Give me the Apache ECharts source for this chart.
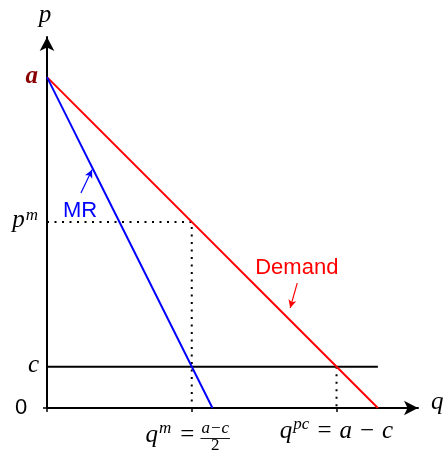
<!DOCTYPE html>
<html>
<head>
<meta charset="utf-8">
<script src="https://cdn.jsdelivr.net/npm/echarts@6/dist/echarts.min.js"></script>
<style>
  html, body { margin: 0; padding: 0; background: #ffffff; }
  #chart { width: 444px; height: 451px; }
</style>
</head>
<body>
<div id="chart"></div>
<script>
// Monopoly vs. perfect competition with linear demand p = a - q and constant marginal cost c.
const A = 8;           // demand intercept a
const C = 1;           // marginal cost c
const AXIS_MAX = 8.97; // axes run a little past a

const demandQ = [0, 8];
const demandP = [8, 0];
const mrQ = [0, 4];
const mrP = [8, 0];
const costQ = [0, 8];
const costP = [1, 1];
const monopolyQ = [0, 3.5, 3.5];
const monopolyP = [4.5, 4.5, 0];
const competitiveQ = [7, 7];
const competitiveP = [1, 0];
const xTickValues = [0, 3.5, 7];
const mrPointerQ = [0.82, 1.09];
const mrPointerP = [5.2, 5.76];
const demandPointerQ = [6.05, 5.88];
const demandPointerP = [3.02, 2.42];

const RED = '#ff0000';
const BLUE = '#0000ff';
const MAROON = '#8b0000';
const SERIF = '"Liberation Serif", "DejaVu Serif", serif';
const SANS = '"Liberation Sans", "DejaVu Sans", sans-serif';

const zip = (xs, ys) => xs.map((x, i) => [x, ys[i]]);

const chart = echarts.init(document.getElementById('chart'), null, { renderer: 'canvas' });

function lineSeries(name, q, p, color, type) {
  return {
    name, type: 'line', data: zip(q, p), symbol: 'none', silent: true,
    lineStyle: { color, width: 2, type: type || 'solid', cap: 'butt' },
    z: 3
  };
}

function pointer(q, p, color) {
  return {
    type: 'line', data: [], symbol: 'none', silent: true,
    markLine: {
      silent: true, animation: false,
      symbol: ['none', 'arrow'], symbolSize: [6, 8],
      label: { show: false },
      lineStyle: { color, width: 1.2, type: 'solid' },
      data: [[{ coord: [q[0], p[0]] }, { coord: [q[1], p[1]] }]]
    }
  };
}

chart.setOption({
  animation: false,
  backgroundColor: '#ffffff',
  grid: { left: 47, top: 37, width: 371, height: 371, containLabel: false },
  xAxis: {
    type: 'value', min: 0, max: AXIS_MAX,
    axisLine: { show: true, onZero: false, symbol: ['none', 'arrow'], symbolSize: [11, 14],
      lineStyle: { color: '#000', width: 2 } },
    axisTick: { show: true, customValues: xTickValues, length: 4, inside: false,
      lineStyle: { color: '#000', width: 1.5 } },
    axisLabel: { show: false },
    splitLine: { show: false }
  },
  yAxis: {
    type: 'value', min: 0, max: AXIS_MAX,
    axisLine: { show: true, onZero: false, symbol: ['none', 'arrow'], symbolSize: [11, 14],
      lineStyle: { color: '#000', width: 2 } },
    axisTick: { show: true, customValues: [0], length: 4, inside: false,
      lineStyle: { color: '#000', width: 1.5 } },
    axisLabel: { show: false },
    splitLine: { show: false }
  },
  series: [
    lineSeries('Cost', costQ, costP, '#000'),
    lineSeries('Monopoly', monopolyQ, monopolyP, '#000', [2, 5.5]),
    lineSeries('Competitive', competitiveQ, competitiveP, '#000', [2, 5.5]),
    lineSeries('Demand', demandQ, demandP, RED),
    lineSeries('MR', mrQ, mrP, BLUE),
    pointer(mrPointerQ, mrPointerP, BLUE),
    pointer(demandPointerQ, demandPointerP, RED)
  ]
});

// ---- math-style labels built from positioned text pieces ----
const measure = document.createElement('canvas').getContext('2d');
function fontOf(p) {
  return (p.italic ? 'italic ' : '') + (p.bold ? 'bold ' : '') + p.size + 'px ' + (p.family || SERIF);
}
function widthOf(p) { measure.font = fontOf(p); return measure.measureText(p.t).width; }
// distance from the em-box middle down to the alphabetic baseline
function baselineShift(p) { return p.size * ((p.family || SERIF) === SANS ? 0.347 : 0.338); }

function textEl(p, x, baseline, align, color) {
  return {
    type: 'text', silent: true,
    style: {
      text: p.t, x, y: baseline - baselineShift(p),
      font: fontOf(p), fill: p.color || color,
      align, textAlign: align, verticalAlign: 'middle', textVerticalAlign: 'middle'
    }
  };
}

// parts laid out left to right; y is the shared baseline
function formula(parts, x, baseline, align, color) {
  const widths = parts.map(p => p.frac
    ? Math.max(widthOf(p.num), widthOf(p.den)) + 2
    : widthOf(p));
  const total = parts.reduce((s, p, i) => s + (p.before || 0) + widths[i] + (p.after || 0), 0);
  let cx = align === 'center' ? x - total / 2 : align === 'right' ? x - total : x;
  const els = [];
  parts.forEach((p, i) => {
    cx += p.before || 0;
    const w = widths[i];
    if (p.frac) {
      const mid = cx + w / 2;
      els.push(textEl(p.num, mid, baseline + p.numDy, 'center', color));
      els.push({ type: 'rect', silent: true,
        shape: { x: cx, y: baseline + p.barDy, width: w, height: 0.9 },
        style: { fill: color } });
      els.push(textEl(p.den, mid, baseline + p.denDy, 'center', color));
    } else {
      els.push(textEl(p, cx, baseline + (p.dy || 0), 'left', color));
    }
    cx += w + (p.after || 0);
  });
  return els;
}

const px = (q, p) => chart.convertToPixel({ gridIndex: 0 }, [q, p]);
const M = 25;   // main math size
const S = 17;   // superscript size

const origin = px(0, 0);
const topOfP = px(0, AXIS_MAX);
const endOfQ = px(AXIS_MAX, 0);
const aPt = px(0, A);
const cPt = px(0, C);
const pmPt = px(0, monopolyP[0]);
const qmPt = px(monopolyQ[1], 0);
const qpcPt = px(competitiveQ[0], 0);
const mrTail = px(mrPointerQ[0], mrPointerP[0]);
const demandTail = px(demandPointerQ[0], demandPointerP[0]);

const labels = [].concat(
  formula([{ t: 'p', italic: true, size: M }], topOfP[0] - 2, topOfP[1] - 13, 'center', '#000'),
  formula([{ t: 'q', italic: true, size: M }], endOfQ[0] + 13, endOfQ[1] + 3, 'left', '#000'),
  formula([{ t: 'a', italic: true, bold: true, size: M, color: MAROON }], aPt[0] - 9, aPt[1] + 8, 'right', MAROON),
  formula([{ t: 'c', italic: true, size: M }], cPt[0] - 8, cPt[1] + 7, 'right', '#000'),
  formula([{ t: '0', family: SANS, size: 22 }], origin[0] - 26, origin[1] + 8, 'center', '#000'),
  formula([
    { t: 'p', italic: true, size: M, after: 1 },
    { t: 'm', italic: true, size: S, dy: -8 }
  ], pmPt[0] - 9, pmPt[1] + 7, 'right', '#000'),
  formula([
    { t: 'q', italic: true, size: M, after: 1 },
    { t: 'm', italic: true, size: S, dy: -10, after: 9 },
    { t: '=', size: M, after: 6 },
    { frac: true,
      num: { t: 'a\u2212c', italic: true, size: 17 }, numDy: -10,
      den: { t: '2', size: 17 }, denDy: 7, barDy: -6 }
  ], qmPt[0] - 4, qmPt[1] + 36, 'center', '#000'),
  formula([
    { t: 'q', italic: true, size: M, after: 1 },
    { t: 'pc', italic: true, size: S, dy: -10, after: 8 },
    { t: '=', size: M, after: 8 },
    { t: 'a', italic: true, size: M, after: 8 },
    { t: '\u2212', size: M, after: 8 },
    { t: 'c', italic: true, size: M }
  ], qpcPt[0], qpcPt[1] + 32, 'center', '#000'),
  formula([{ t: 'MR', family: SANS, size: 22, color: BLUE }], mrTail[0] - 18, mrTail[1] + 26, 'left', BLUE),
  formula([{ t: 'Demand', family: SANS, size: 22, color: RED }], demandTail[0] - 42, demandTail[1] - 8, 'left', RED)
);

chart.setOption({ graphic: { elements: labels } });
</script>
</body>
</html>
